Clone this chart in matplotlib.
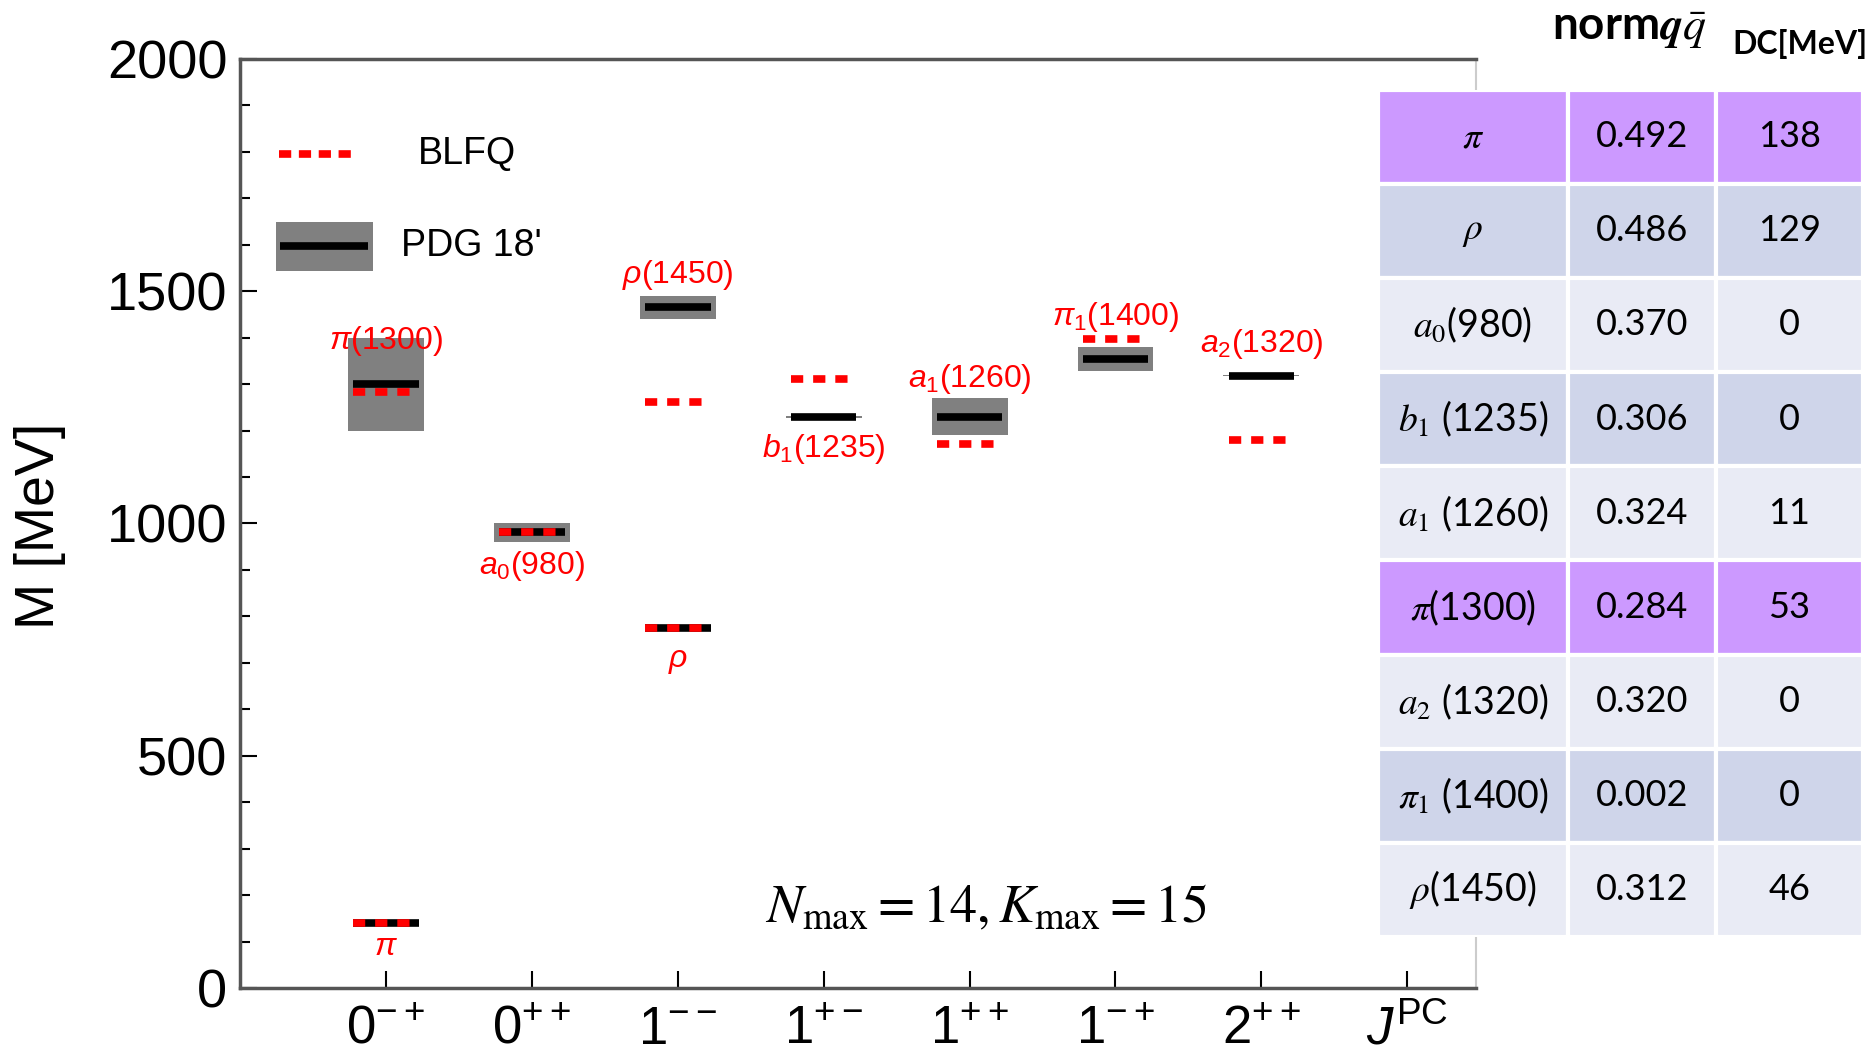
import matplotlib
matplotlib.use("Agg")
import matplotlib.pyplot as plt
from matplotlib.patches import Rectangle
from matplotlib.ticker import MultipleLocator

plt.rcParams['font.family'] = ['Liberation Sans', 'DejaVu Sans']
plt.rcParams['mathtext.fontset'] = 'custom'
plt.rcParams['mathtext.rm'] = 'Liberation Sans'
plt.rcParams['mathtext.it'] = 'Liberation Sans:italic'
plt.rcParams['mathtext.bf'] = 'Liberation Sans:bold'

# J^PC channels on the x axis
jpc_labels = ['0$^{-+}$', '0$^{++}$', '1$^{--}$', '1$^{+-}$', '1$^{++}$',
              '1$^{-+}$', '2$^{++}$', r'$J^{\mathrm{PC}}$']

# meson states: channel, name, PDG mass / uncertainty, BLFQ mass (MeV)
state_names = [r'$\pi$', r'$\pi$(1300)', r'$a_0$(980)', r'$\rho$', r'$\rho$(1450)',
               r'$b_1$(1235)', r'$a_1$(1260)', r'$\pi_1$(1400)', r'$a_2$(1320)']
state_channel = [1, 1, 2, 3, 3, 4, 5, 6, 7]
pdg_mass = [140, 1300, 981, 775, 1465, 1229, 1230, 1354, 1318]
pdg_err = [0, 100, 20, 0, 25, 3, 40, 25, 1]
blfq_mass = [140, 1283, 981, 775, 1262, 1311, 1172, 1397, 1180]

# table on the right
table_states = [r'$\pi$', r'$\rho$', r'$a_0$(980)', r'$b_1$ (1235)', r'$a_1$ (1260)',
                r'$\pi$(1300)', r'$a_2$ (1320)', r'$\pi_1$ (1400)', r'$\rho$(1450)']
norm_qqbar = ['0.492', '0.486', '0.370', '0.306', '0.324', '0.284', '0.320', '0.002', '0.312']
dc_mev = ['138', '129', '0', '0', '11', '53', '0', '0', '46']

# label offsets (points) relative to the PDG line
label_dy = [-17, 31, -24, -24, 23, -23, 27, 30, 23]
half_w = 0.225
box_half_w = 0.26

fig = plt.figure(figsize=(18.74, 10.58), dpi=100)
ax = fig.add_axes([0.128, 0.066, 0.6596, 0.8785])

for c, m, e, b in zip(state_channel, pdg_mass, pdg_err, blfq_mass):
    if e > 0:
        ax.add_patch(Rectangle((c - box_half_w, m - e), 2 * box_half_w, 2 * e,
                               fc='#808080', ec='none', zorder=2))
    ax.plot([c - half_w, c + half_w], [m, m], color='black', lw=5.5,
            solid_capstyle='butt', zorder=3)
    ax.plot([c - half_w, c + half_w], [b, b], color='red', lw=5.5,
            dashes=(1.6, 1.3), dash_capstyle='butt', zorder=4)

for name, c, m, dy in zip(state_names, state_channel, pdg_mass, label_dy):
    ax.annotate(name, (c, m), xytext=(0, dy), textcoords='offset points',
                ha='center', va='center', color='red', fontsize=23, zorder=5)

# legend drawn by hand
ax.plot([0.0316, 0.0922], [0.898, 0.898], transform=ax.transAxes, color='red',
        lw=5.5, dashes=(1.6, 1.0), dash_capstyle='butt')
ax.add_patch(Rectangle((0.0291, 0.772), 0.0785, 0.052, transform=ax.transAxes,
                       fc='#808080', ec='none'))
ax.plot([0.0324, 0.1036], [0.798, 0.798], transform=ax.transAxes, color='black',
        lw=5.5, solid_capstyle='butt')
ax.text(0.144, 0.898, 'BLFQ', transform=ax.transAxes, fontsize=27, va='center')
ax.text(0.130, 0.798, "PDG 18'", transform=ax.transAxes, fontsize=27, va='center')

ax.text(0.604, 0.086, r'$N_{\mathrm{max}}=14, K_{\mathrm{max}}=15$', transform=ax.transAxes,
        fontsize=39, ha='center', va='center', math_fontfamily='stix')

ax.set_xlim(0, 8.47)
ax.set_ylim(0, 2000)
ax.set_xticks(range(1, len(jpc_labels) + 1))
ax.set_xticklabels(jpc_labels, fontsize=38)
ax.yaxis.set_major_locator(MultipleLocator(500))
ax.yaxis.set_minor_locator(MultipleLocator(100))
ax.tick_params(axis='y', which='major', direction='in', length=12, width=1.5, labelsize=39, pad=9)
ax.tick_params(axis='y', which='minor', direction='in', length=7, width=1.5)
ax.tick_params(axis='x', which='major', direction='in', length=12, width=1.5, pad=12)
for side in ['left', 'bottom', 'top']:
    ax.spines[side].set_color('#555555')
    ax.spines[side].set_linewidth(2.5)
ax.spines['right'].set_color('#cccccc')
ax.spines['right'].set_linewidth(1.5)
ax.set_ylabel('M [MeV]', fontsize=40)
ax.yaxis.set_label_coords(-0.141, 0.497)

# table
tab = fig.add_axes([1378 / 1874, 1 - 937 / 1058, 485 / 1874, 847.4 / 1058])
tab.set_xlim(0, 485)
tab.set_ylim(len(table_states), 0)
tab.axis('off')
col_x = [0, 190, 338, 485]
row_colors = ['#cc99ff', '#cfd5ea', '#e9ebf5', '#cfd5ea', '#e9ebf5',
              '#cc99ff', '#e9ebf5', '#cfd5ea', '#e9ebf5']
for r, (s, n, d) in enumerate(zip(table_states, norm_qqbar, dc_mev)):
    for j, txt in enumerate([s, n, d]):
        tab.add_patch(Rectangle((col_x[j], r), col_x[j + 1] - col_x[j], 1,
                                fc=row_colors[r], ec='white', lw=3))
        tab.text((col_x[j] + col_x[j + 1]) / 2, r + 0.5, txt, ha='center', va='center',
                 fontsize=27 if j == 0 else 26, family='Lato', math_fontfamily='stix')

fig.text(1629 / 1874, 1 - 30 / 1058, r'norm$\boldsymbol{q\bar{q}}$', ha='center', va='center',
         fontsize=33, family='Lato', fontweight='bold', math_fontfamily='stix')
fig.text(1800 / 1874, 1 - 44 / 1058, 'DC[MeV]', ha='center', va='center',
         fontsize=23, family='Lato', fontweight='bold')

fig.savefig('out.png', dpi=100, facecolor='white')
